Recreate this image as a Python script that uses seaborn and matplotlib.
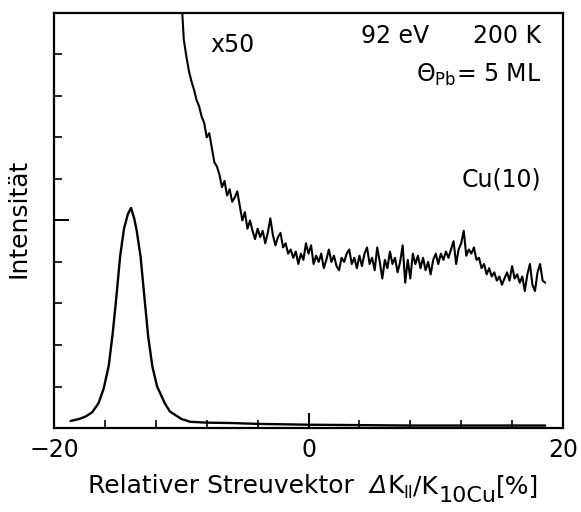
import numpy as np
import pandas as pd
import matplotlib
matplotlib.use("Agg")
import matplotlib.pyplot as plt
import seaborn as sns
from matplotlib.ticker import MultipleLocator, FixedLocator, NullFormatter

# Cu(10) profile, unscaled (x in %, intensity in arbitrary units)
peak_x = [-18.7, -18.0, -17.5, -17.0, -16.5, -16.1, -15.7, -15.4, -15.15, -14.8,
          -14.5, -14.2, -13.95, -13.7, -13.5, -13.2, -12.85, -12.6, -12.27, -11.9,
          -11.3, -10.9, -10.0, -9.3, -8.0, -6.0, -4.0, -2.0, 0.0, 4.0,
          8.0, 12.0, 16.0, 18.6]
peak_y = [0.17, 0.22, 0.28, 0.38, 0.60, 0.95, 1.50, 2.25, 3.00, 4.15,
          4.80, 5.15, 5.30, 5.05, 4.75, 4.13, 3.00, 2.20, 1.48, 1.00,
          0.60, 0.40, 0.22, 0.15, 0.13, 0.12, 0.10, 0.09, 0.08, 0.07,
          0.06, 0.06, 0.06, 0.06]

# Same scan magnified x50, sampled every 0.2 % from -10 %
scan_start = -10.0
scan_step = 0.2
scan_x50 = [
    10.40, 9.35, 8.95, 8.60, 8.35, 8.15, 7.90, 7.75, 7.50, 7.35,
    7.00, 7.10, 6.75, 6.40, 6.30, 6.10, 5.80, 5.95, 5.60, 5.75,
    5.45, 5.55, 5.70, 5.35, 5.00, 5.20, 4.80, 5.00, 4.75, 4.55,
    4.80, 4.60, 4.75, 4.45, 4.70, 5.05, 4.65, 4.40, 4.60, 4.70,
    4.35, 4.45, 4.20, 4.30, 4.10, 4.25, 3.95, 4.20, 4.05, 4.45,
    4.20, 4.40, 3.95, 4.15, 4.00, 4.20, 3.85, 4.05, 4.30, 4.00,
    4.15, 3.90, 3.80, 4.10, 4.00, 4.20, 4.30, 3.95, 4.10, 3.85,
    4.15, 3.90, 4.20, 4.35, 3.95, 4.10, 3.80, 4.35, 4.00, 3.60,
    4.05, 3.85, 4.25, 3.95, 4.10, 3.75, 4.00, 4.40, 3.50, 4.05,
    3.60, 4.20, 3.95, 4.15, 3.85, 4.10, 3.80, 4.00, 3.70, 4.05,
    4.20, 3.95, 4.20, 4.05, 4.25, 4.10, 4.30, 4.50, 3.95, 4.30,
    4.45, 4.75, 4.15, 4.30, 4.20, 4.35, 4.05, 4.10, 3.85, 3.95,
    3.70, 3.85, 3.65, 3.75, 3.55, 3.65, 3.45, 3.60, 3.75, 3.55,
    3.90, 3.60, 3.70, 3.50, 3.65, 3.30, 3.70, 3.95, 3.45, 3.30,
    3.75, 3.95, 3.55, 3.50,
]

x_ticks = [-20, 0, 20]
x_ticklabels = ["\u221220", "0", "20"]

sns.set_theme(style="ticks")
font = "DejaVu Sans"
plt.rcParams["font.family"] = [font]
plt.rcParams["mathtext.fontset"] = "custom"
plt.rcParams["mathtext.rm"] = font
plt.rcParams["mathtext.it"] = font + ":italic"
for key in ("text.color", "axes.labelcolor", "xtick.color", "ytick.color",
            "axes.edgecolor"):
    plt.rcParams[key] = "black"

peak_df = pd.DataFrame({"x": peak_x, "y": peak_y})
scan_df = pd.DataFrame({
    "x": scan_start + scan_step * np.arange(len(scan_x50)),
    "y": scan_x50,
})

W, H = 581, 512
fig = plt.figure(figsize=(W / 100, H / 100), dpi=100)
ax = fig.add_axes([0.093, 0.164, 0.876, 0.811])

sns.lineplot(data=peak_df, x="x", y="y", ax=ax, color="black", lw=1.7,
             estimator=None, sort=False)
sns.lineplot(data=scan_df, x="x", y="y", ax=ax, color="black", lw=1.5,
             estimator=None, sort=False)

ax.set_xlim(-20, 20)
ax.set_ylim(0, 10)

ax.xaxis.set_major_locator(FixedLocator(x_ticks))
ax.set_xticklabels(x_ticklabels)
ax.xaxis.set_minor_locator(MultipleLocator(4))
ax.yaxis.set_major_locator(FixedLocator([5]))
ax.yaxis.set_major_formatter(NullFormatter())
ax.yaxis.set_minor_locator(MultipleLocator(1))

ax.tick_params(axis="both", which="major", direction="in", length=11, width=1.4,
               labelsize=17, pad=7)
ax.tick_params(axis="both", which="minor", direction="in", length=5.5, width=1.2)
for sp in ax.spines.values():
    sp.set_linewidth(1.6)

ax.set_xlabel("")
ax.set_ylabel("Intensität", fontsize=18)
ax.yaxis.set_label_coords(-0.046, 0.505)

# x-axis label, composed piece by piece so the subscripts stay large
MAIN, SUB = 18, 16
lab = fig.text(88 / W, 1 - 498 / H, "Relativer Streuvektor  ", fontsize=MAIN,
               ha="left", va="bottom")


def chain(prev_x, prev_y, s, size, dy=0.0, **kw):
    return ax.annotate(s, xy=(1, 0), xycoords=(prev_x, prev_y),
                       xytext=(0, dy), textcoords="offset points",
                       fontsize=size, ha="left", va="bottom",
                       annotation_clip=False, **kw)


p_delta = chain(lab, lab, "\u0394", MAIN, style="italic")
p_k1 = chain(p_delta, lab, "K", MAIN)
p_par = chain(p_k1, lab, "II", 12, dy=-3)
p_k2 = chain(p_par, lab, "/K", MAIN)
p_sub = chain(p_k2, lab, "10Cu", SUB, dy=-6)
chain(p_sub, lab, "[%]", MAIN)

ax.text(-7.7, 9.23, "x50", fontsize=17, ha="left", va="center")
ax.text(9.45, 9.45, "92 eV", fontsize=17, ha="right", va="center")
ax.text(18.3, 9.45, "200 K", fontsize=17, ha="right", va="center")
ax.text(18.3, 8.33, r"$\Theta_{\mathrm{Pb}}$= 5 ML", fontsize=17, ha="right",
        va="baseline")
ax.text(18.3, 5.98, "Cu(10)", fontsize=17, ha="right", va="center")

fig.savefig("out.png", dpi=100, facecolor="white")
